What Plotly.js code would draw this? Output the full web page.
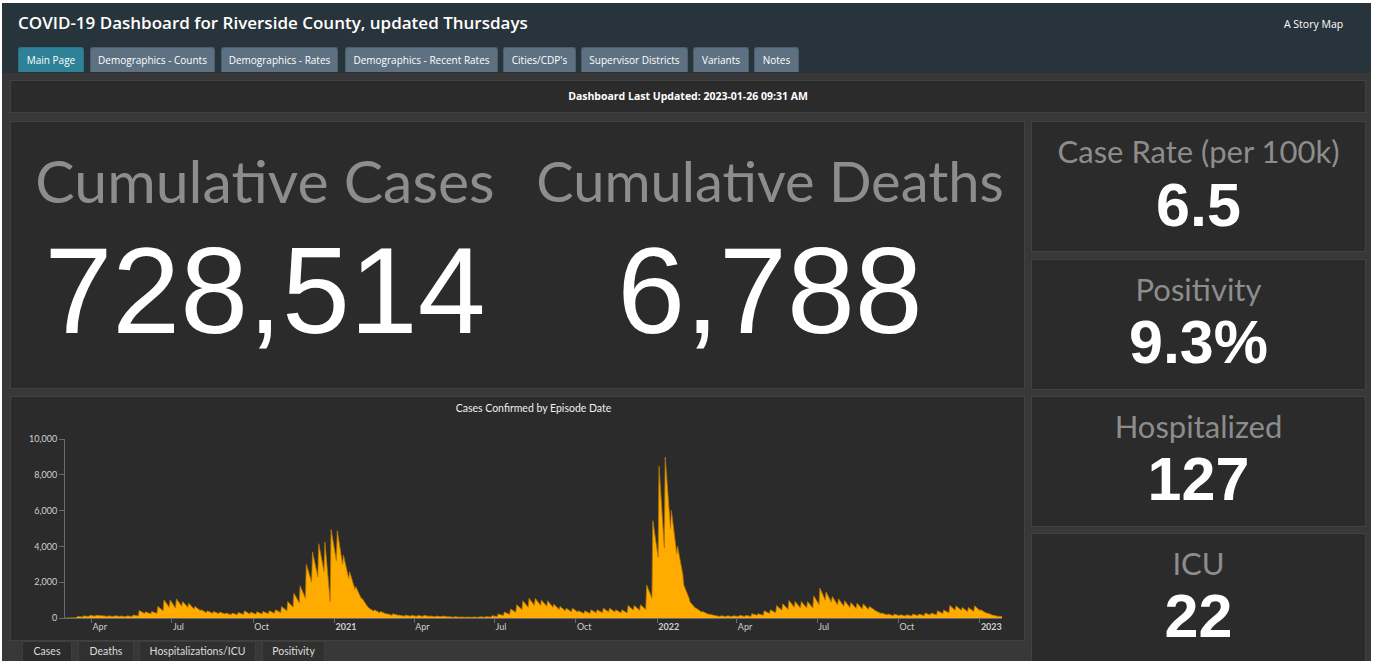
<!DOCTYPE html>
<html>
<head>
<meta charset="utf-8">
<script src="https://cdn.plot.ly/plotly-3.0.1.min.js"></script>
<style>
  html, body { margin:0; padding:0; background:#ffffff; width:1374px; height:661px; overflow:hidden; }
  #dash { position:absolute; left:2px; top:3px; width:1369px; height:658px; background:#383838; overflow:hidden; }
  .abs { position:absolute; }
  #header { left:0; top:0; width:1369px; height:70px; background:#28343b; }
  #title { left:16px; top:8px; color:#ffffff; font-family:"Open Sans", sans-serif; font-weight:600; font-size:17px; white-space:nowrap; }
  #story { left:1282px; top:14px; color:#ffffff; font-family:"Open Sans", sans-serif; font-size:10.5px; white-space:nowrap; }
  .tab { position:absolute; top:44px; height:25px; background:#5d7182; color:#ffffff; font-family:"Open Sans", sans-serif; font-size:10px;
         line-height:25px; text-align:center; border-radius:3px 3px 0 0; white-space:nowrap; border:1px solid #4e5f6c; border-bottom:none; box-sizing:border-box; }
  .tab.active { background:#2e8197; border-color:#2a7486; }
  .panel { position:absolute; background:#2b2b2b; border:1px solid #414141; box-sizing:border-box; }
  .lbl { position:absolute; left:0; width:100%; text-align:center; color:#8d8d8d; font-family:Lato, sans-serif; white-space:nowrap; }
  .val { position:absolute; left:0; width:100%; text-align:center; color:#ffffff; white-space:nowrap; }
  .big { font-family:"Liberation Sans", Arial, sans-serif; font-size:122px; font-weight:400; }
  .side { font-family:"Liberation Sans", Arial, sans-serif; font-size:61px; font-weight:700; }
  .btab { position:absolute; top:638px; height:20px; background:#303030; border:1px solid #3e3e3e; border-bottom:none; box-sizing:border-box;
          color:#dcdcdc; font-family:Lato, sans-serif; font-size:10.5px; line-height:19px; text-align:center; }
  .btab.active { background:#2b2b2b; }
</style>
</head>
<body>
<div id="dash">
  <div id="header" class="abs"></div>
  <div id="title" class="abs">COVID-19 Dashboard for Riverside County, updated Thursdays</div>
  <div id="story" class="abs">A Story Map</div>
  <div class="tab active" style="left:16px;width:66px;">Main Page</div>
  <div class="tab" style="left:88px;width:125px;">Demographics - Counts</div>
  <div class="tab" style="left:219px;width:117px;">Demographics - Rates</div>
  <div class="tab" style="left:343px;width:153px;">Demographics - Recent Rates</div>
  <div class="tab" style="left:501px;width:73px;">Cities/CDP's</div>
  <div class="tab" style="left:579px;width:107px;">Supervisor Districts</div>
  <div class="tab" style="left:691px;width:56px;">Variants</div>
  <div class="tab" style="left:752px;width:45px;">Notes</div>

  <div class="panel" style="left:8px;top:77px;width:1356px;height:33px;">
    <div style="position:absolute;left:0;width:100%;top:8px;text-align:center;color:#fff;font-family:'Open Sans',sans-serif;font-weight:700;font-size:10.5px;">Dashboard Last Updated: 2023-01-26 09:31 AM</div>
  </div>

  <div class="panel" style="left:8px;top:118px;width:1015px;height:268px;">
    <div class="lbl" style="left:0;width:508px;top:23px;font-size:59px;">Cumulative Cases</div>
    <div class="val big" style="left:0;width:508px;top:99px;">728,514</div>
    <div class="lbl" style="left:505px;width:508px;top:25px;font-size:56px;">Cumulative Deaths</div>
    <div class="val big" style="left:505px;width:508px;top:99px;">6,788</div>
  </div>

  <div class="panel" style="left:1029px;top:118px;width:335px;height:131px;">
    <div class="lbl" style="top:10px;font-size:31px;">Case Rate (per 100k)</div>
    <div class="val side" style="top:48px;">6.5</div>
  </div>
  <div class="panel" style="left:1029px;top:256px;width:335px;height:131px;">
    <div class="lbl" style="top:10px;font-size:31px;">Positivity</div>
    <div class="val side" style="top:47px;">9.3%</div>
  </div>
  <div class="panel" style="left:1029px;top:393px;width:335px;height:131px;">
    <div class="lbl" style="top:10px;font-size:31px;">Hospitalized</div>
    <div class="val side" style="top:47px;">127</div>
  </div>
  <div class="panel" style="left:1029px;top:530px;width:335px;height:131px;">
    <div class="lbl" style="top:10px;font-size:31px;">ICU</div>
    <div class="val side" style="top:47px;">22</div>
  </div>

  <div class="panel" style="left:8px;top:393px;width:1015px;height:245px;"></div>
  <div id="chart" class="abs" style="left:9px;top:394px;width:1013px;height:243px;"></div>

  <div class="btab active" style="left:20px;width:50px;">Cases</div>
  <div class="btab" style="left:76px;width:56px;">Deaths</div>
  <div class="btab" style="left:137px;width:117px;">Hospitalizations/ICU</div>
  <div class="btab" style="left:260px;width:63px;">Positivity</div>
</div>
<script>
// ---- data ----
const weekStart = '2020-03-02';   // Monday of first week shown
const dataEnd = '2023-01-26';
// weekly high (start of week) case counts
const weeklyPeak = [
  0, 40, 90, 120, 150, 150, 130, 120, 130, 110,
  120, 170, 420, 350, 370, 645, 1010, 1010, 1070, 920,
  830, 645, 460, 400, 370, 330, 280, 280, 310, 400,
  330, 350, 370, 400, 460, 645, 920, 1380, 1790, 3000,
  3690, 4150, 4240, 4940, 4880, 3500, 2580, 1750, 1100, 590,
  460, 370, 240, 240, 165, 165, 150, 150, 150, 110,
  110, 110, 75, 75, 60, 55, 55, 70, 75, 130,
  220, 330, 500, 740, 960, 1100, 1100, 1000, 960, 775,
  645, 550, 550, 405, 405, 460, 460, 550, 550, 460,
  460, 700, 700, 740, 1840, 5440, 8480, 8990, 6000, 4000,
  1840, 900, 550, 370, 220, 130, 130, 130, 130, 150,
  150, 240, 240, 405, 460, 700, 790, 980, 920, 920,
  920, 1235, 1660, 1450, 1200, 1070, 960, 870, 830, 790,
  645, 405, 280, 220, 220, 185, 185, 220, 220, 280,
  280, 405, 450, 700, 680, 590, 590, 680, 460, 280,
  150, 100
];
// weekly low (end of week) case counts
const weeklyDip = [
  0, 20, 60, 80, 100, 100, 90, 80, 90, 70,
  80, 110, 250, 230, 250, 400, 600, 550, 650, 600,
  500, 420, 300, 260, 240, 220, 180, 180, 200, 220,
  210, 220, 240, 260, 300, 400, 600, 850, 1100, 2000,
  2300, 2600, 920, 3200, 3000, 2200, 1600, 1100, 650, 380,
  290, 230, 150, 150, 100, 100, 90, 90, 90, 70,
  70, 65, 45, 45, 35, 35, 35, 45, 50, 80,
  140, 200, 320, 470, 600, 700, 700, 650, 600, 480,
  400, 340, 340, 250, 250, 290, 290, 340, 340, 290,
  280, 430, 430, 480, 1100, 3400, 3900, 5000, 3600, 2400,
  1100, 560, 340, 230, 140, 80, 80, 80, 80, 90,
  90, 150, 150, 250, 290, 430, 480, 600, 560, 560,
  560, 760, 1000, 880, 730, 650, 580, 530, 500, 480,
  400, 250, 170, 130, 130, 110, 110, 130, 130, 170,
  170, 250, 280, 430, 420, 360, 360, 420, 280, 170,
  90, 60
];
const tickDates = ['2020-04-01','2020-07-01','2020-10-01','2021-01-01','2021-04-01','2021-07-01','2021-10-01',
                   '2022-01-01','2022-04-01','2022-07-01','2022-10-01','2023-01-01'];
const tickLabels = ['Apr','Jul','Oct','<b>2021</b>','Apr','Jul','Oct','<b>2022</b>','Apr','Jul','Oct','<b>2023</b>'];
const yTicks = [0, 2000, 4000, 6000, 8000, 10000];

// ---- build dated series ----
function addDays(iso, n) {
  const d = new Date(iso + 'T00:00:00Z');
  d.setUTCDate(d.getUTCDate() + n);
  return d.toISOString().slice(0, 10);
}
const xs = [], ys = [];
for (let i = 0; i < weeklyPeak.length; i++) {
  xs.push(addDays(weekStart, 7 * i));     ys.push(weeklyPeak[i]);
  xs.push(addDays(weekStart, 7 * i + 6)); ys.push(weeklyDip[i]);
}

const trace = {
  type: 'scatter', mode: 'lines', x: xs, y: ys,
  line: { shape: 'linear', color: '#b27800', width: 0.8 },
  fill: 'tozeroy', fillcolor: '#ffab00', hoverinfo: 'skip'
};

const tickFont = { family: 'Lato, sans-serif', size: 9, color: '#d0d0d0' };
const layout = {
  width: 1013, height: 243,
  margin: { l: 54, r: 22, t: 42, b: 22, pad: 0 },
  paper_bgcolor: '#2b2b2b', plot_bgcolor: '#2b2b2b',
  showlegend: false,
  title: { text: 'Cases Confirmed by Episode Date', x: 0.5, xanchor: 'center', xref: 'paper',
           y: 0.955, yref: 'container', yanchor: 'middle',
           font: { family: 'Lato, sans-serif', size: 10.5, color: '#f0f0f0' } },
  xaxis: {
    type: 'date', range: [weekStart, dataEnd],
    tickmode: 'array', tickvals: tickDates, ticktext: tickLabels,
    ticks: 'outside', ticklen: 4, tickcolor: '#6a6a6a', tickwidth: 1,
    ticklabelposition: 'outside right',
    showline: true, linecolor: '#6a6a6a', linewidth: 1,
    showgrid: false, zeroline: false, tickfont: tickFont, fixedrange: true
  },
  yaxis: {
    range: [0, 10000], tickmode: 'array', tickvals: yTicks, tickformat: ',d',
    ticks: 'outside', ticklen: 5, tickcolor: '#6a6a6a',
    showline: true, linecolor: '#6a6a6a', linewidth: 1,
    showgrid: false, zeroline: false, tickfont: tickFont, fixedrange: true
  }
};
Plotly.newPlot('chart', [trace], layout, { displayModeBar: false, staticPlot: true });
</script>
</body>
</html>
